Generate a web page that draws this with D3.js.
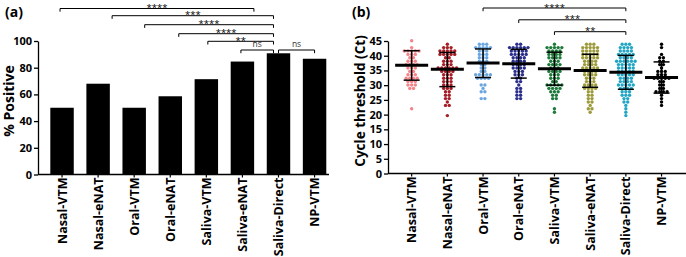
<!DOCTYPE html>
<html>
<head>
<meta charset="utf-8">
<script src="https://cdn.jsdelivr.net/npm/d3@7"></script>
<style>
  body { margin: 0; background: #fff; }
  svg { display: block; font-family: "Open Sans", sans-serif; }
  .axis text { font-weight: 700; fill: #000; }
  .axis path, .axis line { stroke: #000; stroke-width: 1.3; }
</style>
</head>
<body>
<svg id="chart"></svg>
<script>
// categories shared by both panels
const categories = ["Nasal-VTM", "Nasal-eNAT", "Oral-VTM", "Oral-eNAT",
  "Saliva-VTM", "Saliva-eNAT", "Saliva-Direct", "NP-VTM"];

// panel (a): % positive
const pctPositive = [50, 68, 50, 58.6, 71.4, 84.6, 90.8, 86.7];
const pctTicks = [0, 20, 40, 60, 80, 100];

// panel (a) comparisons
const bracketsA = [
  ["Nasal-VTM", "Saliva-eNAT", "****"],
  ["Nasal-eNAT", "Saliva-Direct", "***"],
  ["Oral-VTM", "Saliva-Direct", "****"],
  ["Oral-eNAT", "Saliva-Direct", "****"],
  ["Saliva-VTM", "Saliva-Direct", "**"],
  ["Saliva-eNAT", "Saliva-Direct", "ns"],
  ["Saliva-Direct", "NP-VTM", "ns"]
];

// panel (b): Ct values per sample type
const ctNasalVTM = [44.5, 42.2, 42.0, 41.8, 42.1, 41.9, 41.6, 40.8, 40.5, 40.2, 39.5, 39.2, 38.6, 38.3, 38.0,
  37.4, 37.0, 36.8, 36.5, 36.2, 35.7, 35.3, 34.8, 34.3, 33.8, 33.4, 33.0, 32.7, 32.3, 32.0, 31.8, 31.6,
  31.5, 31.0, 30.6, 30.2, 29.8, 29.3, 28.8, 22.0];
const ctNasalENAT = [44.0, 43.0, 42.3, 42.2, 42.1, 42.0, 41.9, 41.8, 41.3, 41.0, 40.8, 40.6, 40.2, 39.9, 39.5,
  39.0, 38.6, 38.2, 37.8, 37.4, 37.0, 36.6, 36.4, 36.2, 36.0, 35.8, 35.5, 35.3, 35.1, 34.9, 34.7, 34.3,
  34.0, 33.6, 33.2, 32.8, 32.4, 32.0, 31.6, 31.2, 30.8, 30.4, 30.0, 29.6, 29.4, 29.0, 28.5, 28.0, 27.4,
  26.8, 26.3, 25.6, 25.0, 24.3, 23.5, 22.8, 19.5];
const ctOralVTM = [44.0, 43.8, 44.1, 43.2, 43.0, 42.8, 42.9, 42.2, 42.0, 41.8, 41.2, 41.0, 40.7, 40.2, 39.8,
  39.5, 39.0, 38.6, 38.0, 37.6, 37.0, 36.5, 36.0, 35.6, 35.0, 34.5, 34.0, 33.8, 33.4, 33.2, 33.0, 32.9,
  32.7, 32.5, 31.8, 30.5, 30.0, 29.0, 28.3, 27.8, 26.0, 25.9];
const ctOralENAT = [43.8, 43.5, 43.2, 43.0, 42.8, 42.6, 42.4, 42.2, 42.0, 41.8, 41.6, 41.4, 41.2, 41.0, 40.8,
  40.6, 40.3, 40.0, 39.8, 39.5, 39.2, 38.9, 38.6, 38.3, 38.0, 37.7, 37.4, 37.1, 36.8, 36.5, 36.2, 35.9,
  35.6, 35.3, 35.0, 34.6, 34.2, 33.8, 33.4, 33.0, 32.6, 32.3, 31.5, 30.8, 30.0, 29.4, 28.8, 28.3, 27.6,
  27.0, 26.4, 25.8, 25.0];
const ctSalivaVTM = [43.5, 43.2, 43.0, 42.6, 42.4, 42.2, 42.0, 41.8, 41.5, 41.3, 41.0, 40.7, 40.4, 40.2, 39.8,
  39.5, 39.2, 38.8, 38.5, 38.2, 37.8, 37.5, 37.2, 36.8, 36.5, 36.2, 35.8, 35.5, 35.2, 34.8, 34.5, 34.2,
  33.8, 33.4, 33.0, 32.6, 32.2, 31.8, 31.2, 30.8, 30.5, 30.2, 30.0, 29.8, 29.6, 29.4, 29.2, 29.0, 28.6,
  28.2, 27.8, 27.4, 27.0, 26.5, 26.0, 25.5, 22.2, 21.3];
const ctSalivaENAT = [44.0, 43.8, 43.4, 43.2, 43.0, 42.7, 42.5, 42.3, 42.0, 41.8, 41.6, 41.4, 41.1, 40.9, 40.7,
  40.4, 40.2, 40.0, 39.7, 39.5, 39.3, 39.0, 38.8, 38.5, 38.2, 38.0, 37.7, 37.4, 37.1, 36.8, 36.5, 36.2,
  36.0, 35.8, 35.5, 35.3, 35.1, 34.9, 34.6, 34.3, 34.0, 33.6, 33.3, 33.0, 32.6, 32.3, 32.0, 31.6, 31.3,
  31.0, 30.6, 30.3, 30.0, 29.6, 29.3, 29.0, 28.8, 28.4, 28.0, 27.5, 27.0, 26.5, 26.0, 25.3, 24.6, 24.0,
  23.0, 22.2, 21.4, 20.6];
const ctSalivaDirect = [44.2, 43.8, 43.5, 43.0, 42.8, 42.6, 42.2, 42.0, 41.8, 41.5, 41.2, 41.0, 40.7, 40.4,
  40.2, 39.9, 39.6, 39.4, 39.0, 38.8, 38.6, 38.3, 38.1, 37.9, 37.7, 37.6, 37.5, 37.2, 37.0, 36.8, 36.6,
  36.3, 36.1, 35.9, 35.6, 35.4, 35.2, 34.9, 34.7, 34.5, 34.2, 34.0, 33.8, 33.4, 33.2, 33.0, 32.7, 32.4,
  32.2, 31.9, 31.6, 31.4, 31.1, 30.8, 30.6, 30.3, 30.0, 29.8, 29.5, 29.2, 29.0, 28.7, 28.4, 28.1, 27.7,
  27.3, 27.0, 26.5, 26.1, 25.6, 25.2, 24.7, 24.0, 23.3, 22.5, 21.0, 19.6];
const ctNPVTM = [43.5, 42.5, 41.0, 39.6, 39.4, 38.2, 37.8, 37.0, 36.8, 35.6, 35.2, 34.5, 34.2, 33.6, 33.4,
  33.2, 32.8, 32.6, 32.5, 32.4, 32.3, 31.2, 30.9, 30.2, 29.8, 29.3, 28.4, 28.0, 27.6, 27.4, 27.3, 26.2,
  25.2, 24.2, 23.4];

// mean and SD bar ends
const ctMean = [36.8, 35.4, 37.5, 37.3, 35.6, 35.0, 34.4, 32.6];
const ctUpper = [41.7, 41.1, 42.3, 42.2, 41.2, 40.5, 40.1, 37.9];
const ctLower = [31.7, 29.5, 32.6, 32.4, 30.0, 29.3, 28.6, 27.3];
const ctTicks = [0, 5, 10, 15, 20, 25, 30, 35, 40, 45];

const groupColors = ["#f4838a", "#a51d26", "#6aa6e0", "#2b2f8c", "#1e7a3a", "#9c9a3a", "#22a6c4", "#000000"];

// panel (b) comparisons
const bracketsB = [
  ["Oral-VTM", "Saliva-Direct", "****"],
  ["Oral-eNAT", "Saliva-Direct", "***"],
  ["Saliva-VTM", "Saliva-Direct", "**"]
];

// ---- layout ----
const width = 686, height = 257;
const svg = d3.select("#chart").attr("width", width).attr("height", height);

// bracket layout for (a): line heights and small end nudges (px from centre)
const bracketAY = [8.5, 15.7, 24.7, 33.7, 41.3, 50, 50];
const bracketANudge = [[-2, 11.5], [14, -5], [10.5, -5], [8.5, -5], [1.5, -5], [-1.5, -5], [0, 0]];
const bracketBY = [8, 19.8, 31.7];

function drawBracket(g, x1, x2, y, label) {
  g.append("path")
    .attr("d", `M${x1},${y + 3.2}V${y}H${x2}V${y + 3.2}`)
    .attr("fill", "none").attr("stroke", "#000").attr("stroke-width", 1);
  const star = label !== "ns";
  g.append("text")
    .attr("x", (x1 + x2) / 2)
    .attr("y", star ? y + 2.5 : y - 3)
    .attr("text-anchor", "middle")
    .attr("font-size", star ? 9.5 : 8.5)
    .attr("fill", star ? "#000" : "#333")
    .text(label);
}

function xLabels(g, scale, y) {
  g.selectAll(".xl").data(categories).enter().append("text")
    .attr("class", "xl")
    .attr("transform", d => `translate(${scale(d) + scale.bandwidth() / 2},${y}) rotate(-90)`)
    .attr("dy", "0.36em")
    .attr("text-anchor", "end")
    .attr("font-size", 12.5).attr("font-weight", 700)
    .text(d => d);
}

// ---- panel (a) ----
const ga = svg.append("g");
const xa = d3.scaleBand().domain(categories).range([44, 332.6]).paddingInner(0.35).paddingOuter(0.175);
const ya = d3.scaleLinear().domain([0, 100]).range([174.5, 41]);

ga.selectAll(".bar").data(categories).enter().append("rect")
  .attr("class", "bar")
  .attr("x", d => xa(d))
  .attr("width", xa.bandwidth())
  .attr("y", (d, i) => ya(pctPositive[i]))
  .attr("height", (d, i) => ya(0) - ya(pctPositive[i]))
  .attr("fill", "#000");

ga.append("g").attr("class", "axis")
  .attr("transform", "translate(38,0)")
  .call(d3.axisLeft(ya).tickValues(pctTicks).tickSize(4).tickSizeOuter(0).tickPadding(2))
  .call(g => g.selectAll("text").attr("font-size", 11).attr("font-family", "Open Sans"));

ga.append("line").attr("x1", 38).attr("x2", 329).attr("y1", ya(0)).attr("y2", ya(0))
  .attr("stroke", "#000").attr("stroke-width", 1.3);
ga.selectAll(".xt").data(categories).enter().append("line")
  .attr("x1", d => xa(d) + xa.bandwidth() / 2).attr("x2", d => xa(d) + xa.bandwidth() / 2)
  .attr("y1", ya(0)).attr("y2", ya(0) + 3).attr("stroke", "#000").attr("stroke-width", 1.2);
xLabels(ga, xa, 177.5);

ga.append("text")
  .attr("transform", `translate(13.5,101) rotate(-90)`)
  .attr("text-anchor", "middle").attr("font-size", 14).attr("font-weight", 700)
  .text("% Positive");
ga.append("text").attr("x", 5).attr("y", 17).attr("font-size", 14).attr("font-weight", 700).text("(a)");

bracketsA.forEach((b, i) => {
  const c = d => xa(d) + xa.bandwidth() / 2;
  drawBracket(ga, c(b[0]) + bracketANudge[i][0], c(b[1]) + bracketANudge[i][1], bracketAY[i], b[2]);
});

// ---- panel (b) ----
const gb = svg.append("g");
const xb = d3.scaleBand().domain(categories).range([393.8, 679.4]);
const yb = d3.scaleLinear().domain([0, 45]).range([173.5, 41]);

gb.append("g").attr("class", "axis")
  .attr("transform", "translate(388,0)")
  .call(d3.axisLeft(yb).tickValues(ctTicks).tickSize(4).tickSizeOuter(0).tickPadding(2))
  .call(g => g.selectAll("text").attr("font-size", 11).attr("font-family", "Open Sans"));
gb.append("line").attr("x1", 388).attr("x2", 686).attr("y1", yb(0)).attr("y2", yb(0))
  .attr("stroke", "#000").attr("stroke-width", 1.3);
gb.selectAll(".xt").data(categories).enter().append("line")
  .attr("x1", d => xb(d) + xb.bandwidth() / 2).attr("x2", d => xb(d) + xb.bandwidth() / 2)
  .attr("y1", yb(0)).attr("y2", yb(0) + 3).attr("stroke", "#000").attr("stroke-width", 1.2);
xLabels(gb, xb, 176.5);

gb.append("text")
  .attr("transform", `translate(365,101) rotate(-90)`)
  .attr("text-anchor", "middle").attr("font-size", 13.5).attr("font-weight", 700)
  .text("Cycle threshold (Ct)");
gb.append("text").attr("x", 352).attr("y", 17).attr("font-size", 14).attr("font-weight", 700).text("(b)");

// column scatter: values grouped in pixel rows, dots spread around the centre
const ctGroups = [ctNasalVTM, ctNasalENAT, ctOralVTM, ctOralENAT, ctSalivaVTM, ctSalivaENAT, ctSalivaDirect, ctNPVTM];
const rowH = 3.4, dotGap = 3.7, dotR = 1.7;
ctGroups.forEach((vals, gi) => {
  const cx = xb(categories[gi]) + xb.bandwidth() / 2;
  const rows = d3.group(vals, v => Math.round(yb(v) / rowH));
  const pts = [];
  rows.forEach((vs, r) => {
    vs.forEach((v, k) => pts.push({ x: cx + (k - (vs.length - 1) / 2) * dotGap, y: r * rowH }));
  });
  gb.append("g").selectAll("circle").data(pts).enter().append("circle")
    .attr("cx", d => d.x).attr("cy", d => d.y).attr("r", dotR)
    .attr("fill", groupColors[gi]);

  const g = gb.append("g").attr("stroke", "#000");
  g.append("line").attr("x1", cx).attr("x2", cx).attr("y1", yb(ctUpper[gi])).attr("y2", yb(ctLower[gi])).attr("stroke-width", 1.5);
  g.append("line").attr("x1", cx - 8).attr("x2", cx + 8).attr("y1", yb(ctUpper[gi])).attr("y2", yb(ctUpper[gi])).attr("stroke-width", 1.5);
  g.append("line").attr("x1", cx - 8).attr("x2", cx + 8).attr("y1", yb(ctLower[gi])).attr("y2", yb(ctLower[gi])).attr("stroke-width", 1.5);
  g.append("line").attr("x1", cx - 16.5).attr("x2", cx + 16.5).attr("y1", yb(ctMean[gi])).attr("y2", yb(ctMean[gi])).attr("stroke-width", 3);
});

bracketsB.forEach((b, i) => {
  const c = d => xb(d) + xb.bandwidth() / 2;
  drawBracket(gb, c(b[0]), c(b[1]), bracketBY[i], b[2]);
});
</script>
</body>
</html>
